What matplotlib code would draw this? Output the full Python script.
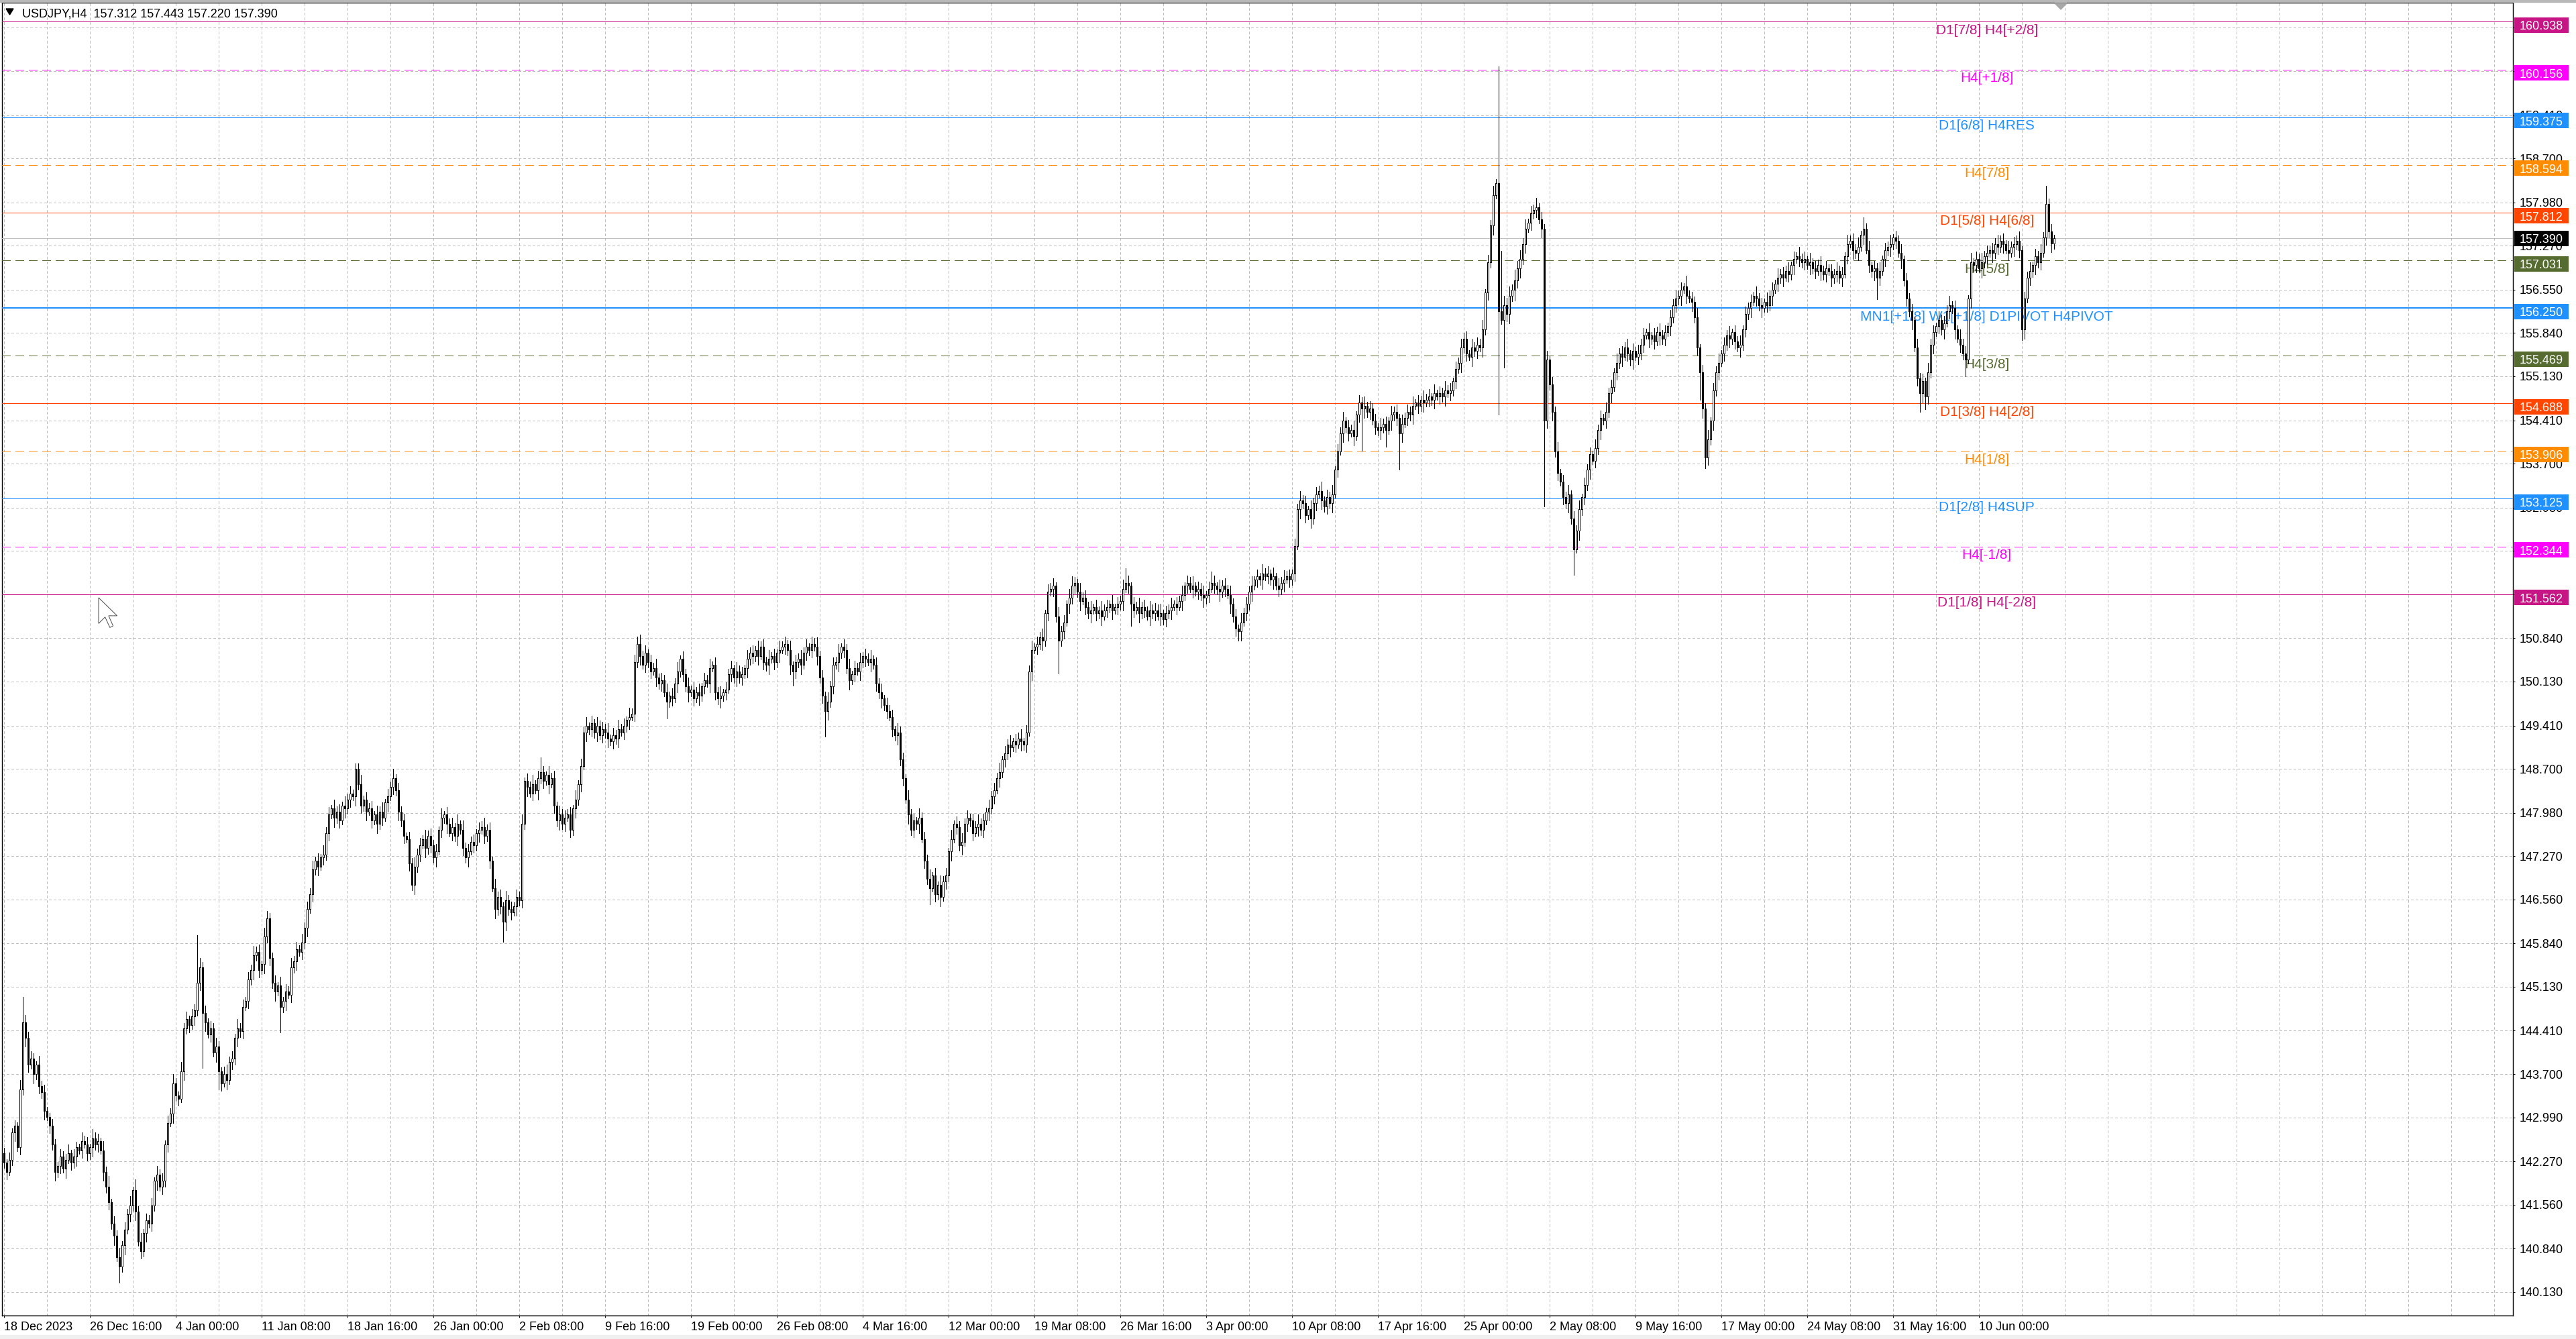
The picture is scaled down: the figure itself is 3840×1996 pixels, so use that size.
import numpy as np
import matplotlib
matplotlib.use("Agg")
import matplotlib.pyplot as plt
from matplotlib.patches import Rectangle, Polygon
from matplotlib.transforms import blended_transform_factory

plt.rcParams['font.family'] = ['Liberation Sans', 'DejaVu Sans']

W, H, DPI = 3840, 1996, 100

title = "USDJPY,H4  157.312 157.443 157.220 157.390"

# H4 closes, 10 bars per row (open = previous close)
first_open = 142.40
closes_txt = """
142.25 142.10 142.30 142.75 142.85 142.50 143.45 144.55 144.30 143.85
143.95 143.70 143.85 143.50 143.40 143.10 143.00 142.85 142.55 142.10
142.20 142.35 142.15 142.30 142.40 142.25 142.35 142.50 142.45 142.60
142.55 142.40 142.50 142.65 142.55 142.60 142.45 142.10 141.85 141.60
141.25 141.05 140.70 140.55 140.90 141.15 141.40 141.55 141.80 141.45
140.95 140.80 141.10 141.30 141.25 141.55 141.95 142.05 141.85 141.95
142.55 142.90 143.05 143.55 143.35 143.30 143.75 144.45 144.60 144.50
144.65 144.75 145.20 145.45 144.70 144.55 144.35 144.45 144.05 144.15
143.75 143.55 143.70 143.60 143.90 143.95 144.30 144.45 144.40 144.80
144.90 145.25 145.40 145.65 145.70 145.40 145.50 145.95 146.25 145.60
145.20 145.05 145.15 144.80 144.90 145.05 145.00 145.45 145.55 145.75
145.70 145.85 146.10 146.40 146.65 147.05 147.20 147.10 147.25 147.30
147.65 147.95 148.05 147.90 148.00 147.85 148.10 148.05 148.20 148.30
148.25 148.70 148.45 148.10 148.20 148.00 148.05 147.85 147.95 147.80
148.00 147.90 148.15 148.25 148.40 148.55 148.35 148.00 147.85 147.60
147.55 147.15 146.80 147.10 147.30 147.45 147.55 147.40 147.60 147.45
147.25 147.35 147.70 147.90 147.95 147.80 147.65 147.75 147.60 147.80
147.70 147.40 147.25 147.35 147.50 147.45 147.65 147.70 147.75 147.60
147.70 147.20 146.75 146.40 146.60 146.45 146.20 146.55 146.40 146.35
146.45 146.60 146.55 147.80 148.50 148.40 148.30 148.45 148.35 148.55
148.65 148.50 148.60 148.45 148.55 148.10 147.85 147.95 147.80 147.90
147.95 147.70 148.05 148.20 148.45 148.75 149.30 149.40 149.35 149.45
149.30 149.40 149.25 149.35 149.30 149.20 149.15 149.25 149.20 149.35
149.30 149.40 149.50 149.55 149.60 150.45 150.75 150.55 150.40 150.60
150.45 150.30 150.35 150.20 150.10 150.15 149.95 149.80 149.90 149.85
150.10 150.30 150.50 150.25 150.05 149.95 150.00 149.85 149.95 149.90
150.05 150.15 150.10 150.35 150.40 149.95 149.85 149.90 149.95 150.00
150.25 150.35 150.20 150.30 150.20 150.25 150.35 150.50 150.60 150.55
150.65 150.55 150.70 150.45 150.40 150.50 150.55 150.45 150.60 150.65
150.70 150.75 150.65 150.40 150.30 150.45 150.50 150.40 150.60 150.70
150.65 150.75 150.70 150.55 150.20 149.90 149.65 149.80 150.05 150.40
150.45 150.60 150.70 150.65 150.35 150.15 150.25 150.35 150.30 150.45
150.55 150.50 150.45 150.50 150.40 150.10 149.95 149.85 149.75 149.65
149.55 149.35 149.25 149.30 148.85 148.55 148.20 147.95 147.70 147.85
147.80 147.90 147.55 147.20 146.90 146.75 146.95 146.65 146.80 146.60
146.85 146.95 147.35 147.55 147.80 147.75 147.45 147.50 147.80 147.90
147.85 147.65 147.75 147.80 147.70 147.85 148.00 148.05 148.25 148.35
148.55 148.65 148.85 148.95 149.10 149.05 149.15 149.10 149.20 149.15
149.10 149.30 150.30 150.65 150.70 150.75 150.85 150.80 151.25 151.60
151.65 151.70 151.20 150.80 150.95 151.10 151.40 151.50 151.70 151.75
151.60 151.45 151.50 151.35 151.25 151.30 151.35 151.25 151.30 151.20
151.30 151.35 151.40 151.30 151.35 151.40 151.45 151.65 151.75 151.70
151.40 151.30 151.35 151.25 151.35 151.30 151.20 151.30 151.25 151.30
151.20 151.25 151.15 151.25 151.30 151.35 151.40 151.35 151.45 151.55
151.70 151.75 151.65 151.70 151.60 151.65 151.55 151.50 151.55 151.65
151.75 151.70 151.65 151.60 151.70 151.65 151.55 151.40 151.20 151.00
150.95 151.10 151.25 151.40 151.60 151.70 151.80 151.85 151.80 151.90
151.85 151.90 151.80 151.85 151.70 151.65 151.75 151.80 151.85 151.80
151.90 152.35 152.95 153.10 153.05 152.85 152.95 152.80 153.05 153.20
153.25 153.10 153.00 153.15 153.05 153.20 153.60 153.90 154.20 154.40
154.30 154.20 154.25 154.15 154.50 154.70 154.60 154.65 154.55 154.60
154.40 154.30 154.25 154.30 154.35 154.25 154.40 154.50 154.55 154.45
154.20 154.35 154.45 154.55 154.50 154.65 154.70 154.65 154.75 154.70
154.75 154.80 154.75 154.85 154.80 154.85 154.80 154.90 154.85 154.90
155.05 155.25 155.35 155.60 155.75 155.50 155.45 155.60 155.55 155.65
155.60 155.90 156.50 157.00 157.60 158.10 158.30 156.20 156.05 156.30
156.15 156.45 156.55 156.70 156.90 157.05 157.30 157.55 157.65 157.80
157.85 157.90 157.70 157.55 154.40 155.40 155.00 154.55 153.90 153.55
153.40 153.15 153.05 153.20 152.80 152.30 152.60 152.95 153.15 153.35
153.60 153.85 153.75 153.95 154.25 154.45 154.40 154.55 154.85 154.95
155.20 155.35 155.50 155.45 155.60 155.50 155.40 155.55 155.45 155.50
155.65 155.80 155.85 155.75 155.80 155.70 155.85 155.80 155.75 155.85
155.95 156.10 156.30 156.40 156.45 156.55 156.60 156.45 156.40 156.35
156.10 155.60 155.20 154.60 153.80 154.10 154.40 154.90 155.20 155.35
155.50 155.65 155.80 155.75 155.85 155.70 155.60 155.65 155.90 156.15
156.25 156.35 156.45 156.40 156.30 156.25 156.35 156.30 156.45 156.55
156.65 156.75 156.80 156.75 156.85 156.80 156.95 157.05 157.10 157.05
157.00 157.05 156.95 157.00 156.90 156.85 156.95 156.85 156.80 156.90
156.85 156.75 156.80 156.85 156.75 156.80 157.10 157.30 157.35 157.20
157.15 157.25 157.45 157.55 157.20 156.95 156.85 156.90 156.75 156.85
157.05 157.20 157.25 157.30 157.40 157.35 157.15 157.05 156.70 156.40
156.20 156.05 155.60 155.10 154.85 155.05 154.80 155.20 155.65 155.85
155.95 156.05 155.90 156.00 156.20 156.30 156.25 155.90 155.75 155.65
155.50 155.40 156.40 157.00 156.95 157.05 156.90 157.00 157.10 157.15
157.20 157.15 157.30 157.25 157.35 157.30 157.20 157.15 157.25 157.30
157.35 157.20 155.90 156.40 156.75 156.85 156.95 157.10 157.00 157.15
157.40 157.95 157.50 157.31 157.39
"""

# wick lengths beyond the body, one base-36 digit per bar, in steps of wick_unit
wick_unit = 0.03
up_wicks_txt = """
3242325e43 4325342243 2433524325 3425342536 2435243526 3524342534 2435325342 43q5342435
3245342534 2435342543 3425243534 2534352425 3425342534 2335243425 3524352434 2435342534
3425243525 2534342435 3425342534 2435243524 8325342534 3425243524 2534352435 3425344534
2435243524 3524352435 2435243524 3425342534 2534352425 3425243534 2435342534 3524352435
2435243524 3425342534 2534352425 3425243534 2435342534 3524352435 2435243524 3425342553
2534352425 3425243584 2435342534 3524352435 2435243524 6425342534 2534352425 3425243534
2435342534 3524352435 2435243524 3425342534 2534352425 3425243534 2435342534 35243524x5
4536453524 3524352435 2435243524 3425342534 2534352425 3425243534 2435342634 3524352435
2435243524 3425342534 2534352425 3425243534 2435342534 3526352435 2435243524 3425342534
2534352425 3425243534 2435342534 3524352435 3a342
"""
down_wicks_txt = """
3423524354 2534352435 3425243524 2435342534 3529352435 2435243524 3425342534 2534u52425
a425243534 2435342534 352e352435 2435243524 3425342534 2534352425 3425243534 2435342534
3524352435 2435243524 342534b534 2534352425 3425243534 2435342534 3524352435 2435243524
3425342934 2534352425 3425243534 2435342534 3524352435 2435843524 342534e534 2534352425
3425243534 2435342534 3524392435 2435243524 3425342534 2534352425 3425243534 243i342534
3524352435 2435243524 c425342534 2534352425 3425243534 2435342534 5524352435 2435243524
3425342534 2534352425 342524n534 2435392534 k524352435 2435243524 3425342534 253435242q
4536453524 3425243534 24353e2534 3524352435 2435243524 3425342534 2534352425 34f5643534
2435342534 3524352435 2435243524 3425342534 2534352425 34252435c4 2435342534 3524a57435
2435243524 3925342534 2534352425 3465243534 24353
"""
# bars whose high / low are far outside the usual range (intervention spikes)
wick_overrides = {557: (160.21, 154.50), 574: (157.62, 153.00)}

y_ticks = [140.130, 140.840, 141.560, 142.270, 142.990, 143.700, 144.410, 145.130,
           145.840, 146.560, 147.270, 147.980, 148.700, 149.410, 150.130, 150.840,
           151.560, 152.270, 152.980, 153.700, 154.410, 155.130, 155.840, 156.550,
           157.270, 157.980, 158.700, 159.410, 160.130, 160.840]

x_labels = ["18 Dec 2023", "26 Dec 16:00", "4 Jan 00:00", "11 Jan 08:00", "18 Jan 16:00",
            "26 Jan 00:00", "2 Feb 08:00", "9 Feb 16:00", "19 Feb 00:00", "26 Feb 08:00",
            "4 Mar 16:00", "12 Mar 00:00", "19 Mar 08:00", "26 Mar 16:00", "3 Apr 00:00",
            "10 Apr 08:00", "17 Apr 16:00", "25 Apr 00:00", "2 May 08:00", "9 May 16:00",
            "17 May 00:00", "24 May 08:00", "31 May 16:00", "10 Jun 00:00"]
x_label_step = 32
grid_step = 16

level_prices = [160.938, 160.156, 159.375, 158.594, 157.812, 157.031, 156.250,
                155.469, 154.688, 153.906, 153.125, 152.344, 151.562]
level_names = ["D1[7/8] H4[+2/8]", "H4[+1/8]", "D1[6/8] H4RES", "H4[7/8]", "D1[5/8] H4[6/8]",
               "H4[5/8]", "MN1[+1/8] W1[+1/8] D1PIVOT H4PIVOT", "H4[3/8]", "D1[3/8] H4[2/8]",
               "H4[1/8]", "D1[2/8] H4SUP", "H4[-1/8]", "D1[1/8] H4[-2/8]"]
level_colors = ['#C71585', '#FF00FF', '#1E90FF', '#FF8C00', '#FF4500', '#556B2F', '#1E90FF',
                '#556B2F', '#FF4500', '#FF8C00', '#1E90FF', '#FF00FF', '#C71585']
level_dashed = [False, True, False, True, False, True, False, True, False, True, False, True, False]
level_widths = [1, 1, 1, 1, 1, 1, 2, 1, 1, 1, 1, 1, 1]
last_price = 157.390

# layout (pixels of the 3840x1996 picture)
ax_left, ax_right, ax_top, ax_bottom = 3, 3746, 4, 1961
x_min, x_max = -0.7, 935.05
y_min, y_max = 139.745, 161.251
label_bar = 739
PX = 0.72  # one pixel in points at 100 dpi

closes = np.array(closes_txt.split(), dtype=float)
n = len(closes)
opens = np.concatenate([[first_open], closes[:-1]])
up = np.array([int(ch, 36) for ch in "".join(up_wicks_txt.split())]) * wick_unit
dn = np.array([int(ch, 36) for ch in "".join(down_wicks_txt.split())]) * wick_unit
assert len(up) == n and len(dn) == n, (n, len(up), len(dn))
highs = np.maximum(opens, closes) + up
lows = np.minimum(opens, closes) - dn
for i, (hv, lv) in wick_overrides.items():
    highs[i], lows[i] = hv, lv

fig = plt.figure(figsize=(W / DPI, H / DPI), dpi=DPI)
fig.patch.set_facecolor('white')
ax = fig.add_axes([ax_left / W, 1 - ax_bottom / H,
                   (ax_right - ax_left) / W, (ax_bottom - ax_top) / H])
ax.set_xlim(x_min, x_max)
ax.set_ylim(y_min, y_max)
px_per_unit = (ax_bottom - ax_top) / (y_max - y_min)

# grid
grid_kw = dict(color='#C0C0C0', lw=PX, linestyle=(0, (3, 3)), zorder=1, antialiased=False)
for v in y_ticks:
    ax.axhline(v, **grid_kw)
for g in np.arange(0, x_max, grid_step):
    ax.axvline(g, **grid_kw)

# murrey / pivot levels
for p, name, col, dashed, w in zip(level_prices, level_names, level_colors,
                                   level_dashed, level_widths):
    ls = (0, (12, 7)) if dashed else '-'
    ax.axhline(p, color=col, lw=w * PX, linestyle=ls, zorder=3, antialiased=False)
    ax.text(label_bar, p - 3.5 / px_per_unit, name, color=col, fontsize=15,
            ha='center', va='top', zorder=4)
ax.axhline(last_price, color='#C0C0C0', lw=PX, zorder=3, antialiased=False)

# candles
x = np.arange(n)
ax.vlines(x, lows, highs, color='black', lw=PX, zorder=6, antialiased=False)
bull = closes >= opens
ax.bar(x, np.abs(closes - opens), bottom=np.minimum(opens, closes), width=0.5,
       color=np.where(bull, 'white', 'black'), edgecolor='black', lw=PX, zorder=7,
       antialiased=False)

# axes
ax.yaxis.tick_right()
ax.set_yticks(y_ticks)
ax.set_yticklabels([f"{v:.3f}" for v in y_ticks])
ax.tick_params(axis='y', direction='out', length=3 * PX, width=PX, pad=7 * PX,
               labelsize=13, colors='black')
ax.set_xticks(np.arange(len(x_labels)) * x_label_step)
ax.set_xticklabels(x_labels, ha='left')
ax.tick_params(axis='x', direction='out', length=3 * PX, width=PX, pad=6 * PX,
               labelsize=13, colors='black')
for s in ax.spines.values():
    s.set_color('black')
    s.set_linewidth(1.4 * PX)

# price boxes on the right scale (level boxes sit a little below their line)
trans = blended_transform_factory(ax.transAxes, ax.transData)
span = ax_right - ax_left
box_x0 = (3748 - ax_left) / span
box_w = 81 / span
box_h = 23 / px_per_unit
text_x = (3756 - ax_left) / span
box_shift = [5] * len(level_prices) + [0]
for p, col, sh in zip(level_prices + [last_price], level_colors + ['black'], box_shift):
    c = p - sh / px_per_unit
    ax.add_patch(Rectangle((box_x0, c - box_h / 2), box_w, box_h, transform=trans,
                           facecolor=col, edgecolor='none', clip_on=False, zorder=8))
    ax.text(text_x, c - 7 / px_per_unit, f"{p:.3f}", transform=trans, color='white',
            fontsize=13, ha='left', va='baseline', clip_on=False, zorder=9)

# title and window bits
fig.text(33 / W, 1 - 26 / H, title, fontsize=13, ha='left', va='baseline')
fig.add_artist(Polygon([[9 / W, 1 - 13 / H], [20 / W, 1 - 13 / H], [14.5 / W, 1 - 22 / H]],
                       closed=True, color='black', transform=fig.transFigure))
fig.add_artist(Polygon([[3063 / W, 1 - 5 / H], [3081 / W, 1 - 5 / H], [3072 / W, 1 - 14 / H]],
                       closed=True, color='#A8A8A8', transform=fig.transFigure))
fig.add_artist(Rectangle((0, 1 - 3 / H), 1, 3 / H, color='#B8B8B8',
                         transform=fig.transFigure))
fig.add_artist(Rectangle((0, 0), 1, 6 / H, color='#F0F0F0', transform=fig.transFigure))

# mouse pointer left on the chart
cur_x, cur_y, cur_s = 147, 891, 2.4
cursor_shape = [(0, 0), (0, 16), (4, 12), (7, 18.5), (9, 17.5), (6.2, 11.2), (11.5, 11.2)]
fig.add_artist(Polygon([[(cur_x + cx * cur_s) / W, 1 - (cur_y + cy * cur_s) / H]
                        for cx, cy in cursor_shape],
                       closed=True, facecolor='white', edgecolor='#505050', lw=PX,
                       transform=fig.transFigure, zorder=20))

fig.savefig("out.png", dpi=DPI)
